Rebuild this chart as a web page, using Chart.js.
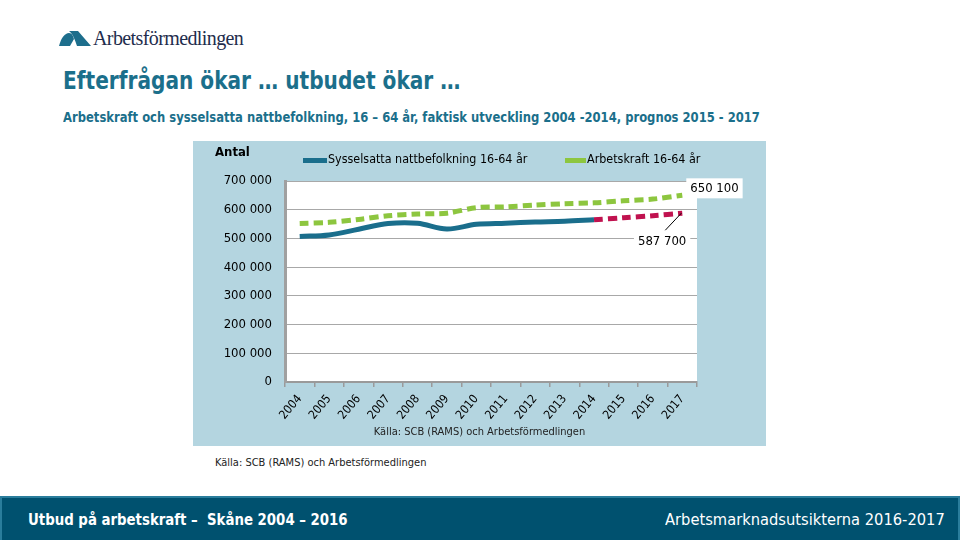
<!DOCTYPE html>
<html>
<head>
<meta charset="utf-8">
<script src="https://cdn.jsdelivr.net/npm/chart.js@4/dist/chart.umd.min.js"></script>
<style>
  html, body { margin: 0; padding: 0; }
  body { width: 960px; height: 540px; position: relative; overflow: hidden; background: #fff;
    font-family: "Liberation Sans Narrow", "DejaVu Sans Condensed", "Open Sans", sans-serif; }
  .abs { position: absolute; white-space: nowrap; transform-origin: left top; }
  #logoText { left: 93px; top: 27px; font-family: "Liberation Serif", "DejaVu Serif", serif; font-size: 20px; color: #1f2d4d; letter-spacing: -0.6px; }
  #title { left: 63px; top: 66px; font-size: 25px; font-weight: bold; color: #1b6f8b; transform: scaleX(0.895); }
  #subtitle { left: 63px; top: 109px; font-size: 14px; font-weight: bold; color: #1b6f8b; transform: scaleX(0.92); }
  #panel { left: 193px; top: 141px; width: 573px; height: 305px; background: #b4d5e0; }
  #antal { left: 215px; top: 144px; font-size: 13px; font-weight: bold; color: #000; }
  .legBar { position: absolute; height: 5px; }
  .legTxt { font-size: 13px; color: #000; transform: scaleX(0.955); }
  #srcIn { left: 193px; width: 573px; top: 425px; text-align: center; font-size: 11px; color: #222; }
  #srcOut { left: 215px; top: 456px; font-size: 11px; color: #222; }
  #footer { left: 0; top: 496px; width: 956px; height: 42px; background: #00516f; border: 2px solid #2a7d9c; }
  #footL { left: 28px; top: 510px; font-size: 16px; font-weight: bold; color: #fff; transform: scaleX(0.925); }
  #footR { left: 665px; top: 510px; font-size: 16px; color: #fff; transform: scaleX(1.02); }
</style>
</head>
<body>
<svg class="abs" style="left:58px;top:28px" width="34" height="20" viewBox="0 0 34 20">
  <path d="M1 18 C3 10 7 5 11 5 C14 5 15 8 16 11 L12 18 Z" fill="#1d6e8c"/>
  <path d="M11 3 L20 3 L33 18 L19 18 C17 12 15 6 11 3 Z" fill="#1d6e8c"/>
</svg>
<div id="logoText" class="abs">Arbetsförmedlingen</div>
<div id="title" class="abs">Efterfrågan ökar … utbudet ökar …</div>
<div id="subtitle" class="abs">Arbetskraft och sysselsatta nattbefolkning, 16 – 64 år, faktisk utveckling 2004 -2014, prognos 2015 - 2017</div>

<div id="panel" class="abs">
  <canvas id="chart" width="573" height="305"></canvas>
</div>
<div id="antal" class="abs">Antal</div>
<div class="legBar" style="left:303px;top:158px;width:24px;background:#1a6e8c"></div>
<div class="abs legTxt" style="left:328px;top:151px">Sysselsatta nattbefolkning 16-64 år</div>
<div class="legBar" style="left:565px;top:158px;width:21px;background:#8dc63f"></div>
<div class="abs legTxt" style="left:587px;top:151px">Arbetskraft 16-64 år</div>
<div id="srcIn" class="abs">Källa: SCB (RAMS) och Arbetsförmedlingen</div>
<div id="srcOut" class="abs">Källa: SCB (RAMS) och Arbetsförmedlingen</div>

<div id="footer" class="abs"></div>
<div id="footL" class="abs">Utbud på arbetskraft –&nbsp; Skåne 2004 – 2016</div>
<div id="footR" class="abs">Arbetsmarknadsutsikterna 2016-2017</div>

<script>
const years = ['2004', '2005', '2006', '2007', '2008', '2009', '2010', '2011', '2012', '2013', '2014', '2015', '2016', '2017']
// Sysselsatta nattbefolkning, faktisk 2004-2014
const sysselsatta = [507000, 512000, 532000, 552000, 553000, 533000, 549000, 553000, 557000, 560000, 565000, null, null, null]
// Sysselsatta, prognos 2015-2017
const sysselsattaPrognos = [null, null, null, null, null, null, null, null, null, null, 565000, 572000, 579000, 587700]
// Arbetskraft 16-64 år
const arbetskraft = [552000, 556000, 566000, 579000, 585000, 588000, 607000, 610000, 616000, 621000, 624000, 631000, 637000, 650100]

const FONT = '"Liberation Sans Narrow", "DejaVu Sans Condensed", sans-serif'
const fmt = (v) => String(Math.round(v)).replace(/\B(?=(\d{3})+(?!\d))/g, ' ')

// etiketter för sista värdena
const endLabels = {
  id: 'endLabels',
  afterDatasetsDraw(chart) {
    const ctx = chart.ctx
    const green = chart.getDatasetMeta(2).data[13]
    const red = chart.getDatasetMeta(1).data[13]
    ctx.save()
    ctx.font = '13px ' + FONT
    ctx.textBaseline = 'middle'
    // 650 100
    let t = fmt(arbetskraft[13])
    let w = ctx.measureText(t).width
    ctx.fillStyle = '#fff'
    ctx.fillRect(green.x + 4, green.y - 17, w + 8, 20)
    ctx.fillStyle = '#000'
    ctx.textAlign = 'left'
    ctx.fillText(t, green.x + 8, green.y - 7)
    // 587 700 med linje
    t = fmt(sysselsattaPrognos[13])
    w = ctx.measureText(t).width
    ctx.fillStyle = '#fff'
    ctx.fillRect(red.x - w, red.y + 19, w + 8, 18)
    ctx.fillStyle = '#000'
    ctx.textAlign = 'right'
    ctx.fillText(t, red.x + 4, red.y + 28)
    ctx.strokeStyle = '#000'
    ctx.lineWidth = 1
    ctx.beginPath()
    ctx.moveTo(red.x - 1, red.y)
    ctx.lineTo(red.x - 17, red.y + 17)
    ctx.stroke()
    ctx.restore()
  },
}

const plotBg = {
  id: 'plotBg',
  beforeDraw(chart) {
    const a = chart.chartArea
    chart.ctx.save()
    chart.ctx.fillStyle = '#fff'
    chart.ctx.fillRect(a.left, a.top, a.right - a.left, a.bottom - a.top)
    chart.ctx.restore()
  },
}

new Chart(document.getElementById('chart'), {
  type: 'line',
  data: {
    labels: years,
    datasets: [
      {
        label: 'Sysselsatta nattbefolkning 16-64 år',
        data: sysselsatta,
        borderColor: '#1a6e8c',
        borderWidth: 5,
        tension: 0.35,
        pointRadius: 0,
      },
      {
        label: 'Prognos',
        data: sysselsattaPrognos,
        borderColor: '#c0124f',
        borderWidth: 5,
        borderDash: [9, 5],
        tension: 0.3,
        pointRadius: 0,
      },
      {
        label: 'Arbetskraft 16-64 år',
        data: arbetskraft,
        borderColor: '#8dc63f',
        borderWidth: 5,
        borderDash: [9, 5],
        tension: 0.3,
        pointRadius: 0,
      },
    ],
  },
  plugins: [plotBg, endLabels],
  options: {
    responsive: false,
    animation: false,
    spanGaps: false,
    layout: { padding: { top: 40, right: 69, left: 0, bottom: 0 } },
    plugins: { legend: { display: false }, tooltip: { enabled: false } },
    scales: {
      x: {
        offset: true,
        afterFit: (s) => { s.height = 64 },
        grid: { offset: true, drawOnChartArea: false, drawTicks: true, tickLength: 5, color: '#9a9a9a', lineWidth: 1.5 },
        border: { color: '#9a9a9a', width: 2 },
        ticks: { autoSkip: false, minRotation: 50, maxRotation: 50, padding: 5, color: '#000', font: { family: FONT, size: 12 } },
      },
      y: {
        min: 0,
        max: 700000,
        afterFit: (s) => { s.width = 92 },
        grid: { color: '#a8a8a8', lineWidth: 1, drawTicks: false },
        border: { color: '#a0a0a0', width: 3 },
        ticks: { stepSize: 100000, padding: 13, color: '#000', font: { family: FONT, size: 13 }, callback: (v) => fmt(v) },
      },
    },
  },
})
</script>
</body>
</html>
